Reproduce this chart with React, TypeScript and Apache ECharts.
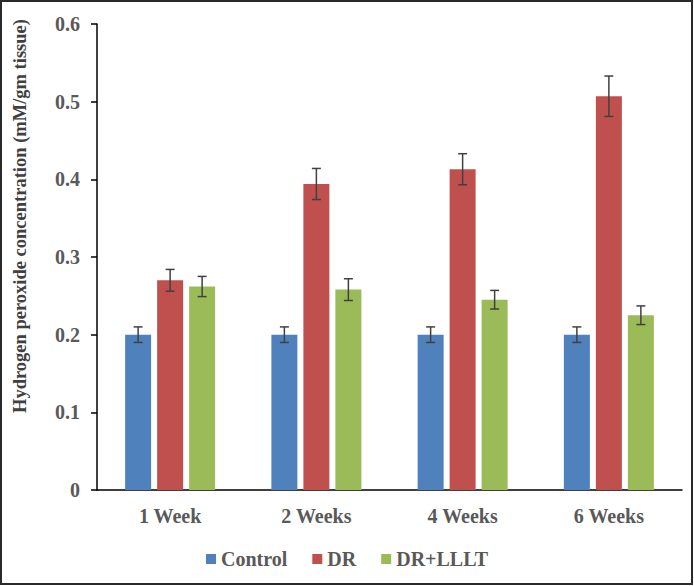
import React, { useEffect, useRef } from "react";
import * as echarts from "echarts";

const categories = ["1 Week", "2 Weeks", "4 Weeks", "6 Weeks"];
const seriesNames = ["Control", "DR", "DR+LLLT"];
const controlValues = [0.2, 0.2, 0.2, 0.2];
const drValues = [0.27, 0.394, 0.413, 0.507];
const lllValues = [0.262, 0.258, 0.245, 0.225];
const controlErr = [0.01, 0.01, 0.01, 0.01];
const drErr = [0.014, 0.02, 0.02, 0.026];
const lllErr = [0.013, 0.014, 0.012, 0.012];
const yTicks = [0, 0.1, 0.2, 0.3, 0.4, 0.5, 0.6];
const yTitle = "Hydrogen peroxide concentration (mM/gm tissue)";

const colors = ["#4F81BD", "#C0504D", "#9BBB59"];
const BAR_W = 26;
const GAP = 6;

export default function App() {
  const ref = useRef<HTMLDivElement>(null);
  useEffect(() => {
    document.body.style.margin = "0";
    const chart = echarts.init(ref.current!, null, { renderer: "svg" });
    const values = [controlValues, drValues, lllValues];
    const errs = [controlErr, drErr, lllErr];
    const font = "'Liberation Serif', 'Times New Roman', serif";

    const errSeries = values.map((vals, si) => ({
      type: "custom",
      name: seriesNames[si] + " err",
      z: 10,
      silent: true,
      data: vals.map((v, i) => [i, v, errs[si][i]]),
      renderItem: (params: any, api: any) => {
        const idx = api.value(0);
        const v = api.value(1);
        const e = api.value(2);
        const offset = (si - 1) * (BAR_W + GAP);
        const hi = api.coord([idx, v + e]);
        const lo = api.coord([idx, v - e]);
        const x = hi[0] + offset;
        const cap = 4.5;
        const style = { stroke: "#404040", lineWidth: 1.5 };
        return {
          type: "group",
          children: [
            { type: "line", shape: { x1: x, y1: hi[1], x2: x, y2: lo[1] }, style },
            { type: "line", shape: { x1: x - cap, y1: hi[1], x2: x + cap, y2: hi[1] }, style },
            { type: "line", shape: { x1: x - cap, y1: lo[1], x2: x + cap, y2: lo[1] }, style },
          ],
        };
      },
    }));

    chart.setOption({
      animation: false,
      color: colors,
      grid: { left: 97, right: 12, top: 24, bottom: 96, containLabel: false },
      graphic: [
        {
          type: "rect",
          shape: { x: 1, y: 1, width: 691, height: 583 },
          style: { fill: "none", stroke: "#2a2a2a", lineWidth: 2 },
          z: 100,
        },
        {
          type: "text",
          x: 20,
          y: 216,
          rotation: Math.PI / 2,
          style: {
            text: yTitle,
            fontFamily: font,
            fontWeight: "bold",
            fontSize: 18.5,
            fill: "#404040",
            align: "center",
            verticalAlign: "middle",
          },
        },
      ],
      legend: {
        data: seriesNames,
        top: 544,
        left: "center",
        itemWidth: 10,
        itemHeight: 10,
        itemGap: 25,
        icon: "rect",
        textStyle: { fontFamily: font, fontWeight: "bold", fontSize: 20, color: "#595959" },
      },
      xAxis: {
        type: "category",
        data: categories,
        axisLine: { lineStyle: { color: "#000", width: 1.5 } },
        axisTick: { show: false },
        axisLabel: {
          margin: 16,
          fontFamily: font,
          fontWeight: "bold",
          fontSize: 20,
          color: "#595959",
        },
      },
      yAxis: {
        type: "value",
        min: yTicks[0],
        max: yTicks[yTicks.length - 1],
        interval: 0.1,
        splitLine: { show: false },
        axisLine: { show: true, lineStyle: { color: "#000", width: 1.5 } },
        axisTick: { show: true, length: 6, lineStyle: { color: "#000", width: 1.5 } },
        axisLabel: {
          margin: 17,
          fontFamily: font,
          fontWeight: "bold",
          fontSize: 20,
          color: "#595959",
          formatter: (v: number) => (v === 0 ? "0" : v.toFixed(1)),
        },
      },
      series: [
        ...values.map((vals, si) => ({
          type: "bar",
          name: seriesNames[si],
          data: vals,
          barWidth: BAR_W,
          barGap: (GAP / BAR_W) * 100 + "%",
          itemStyle: { color: colors[si] },
        })),
        ...errSeries,
      ],
    });
    return () => chart.dispose();
  }, []);
  return <div ref={ref} style={{ width: 694, height: 586 }} />;
}
